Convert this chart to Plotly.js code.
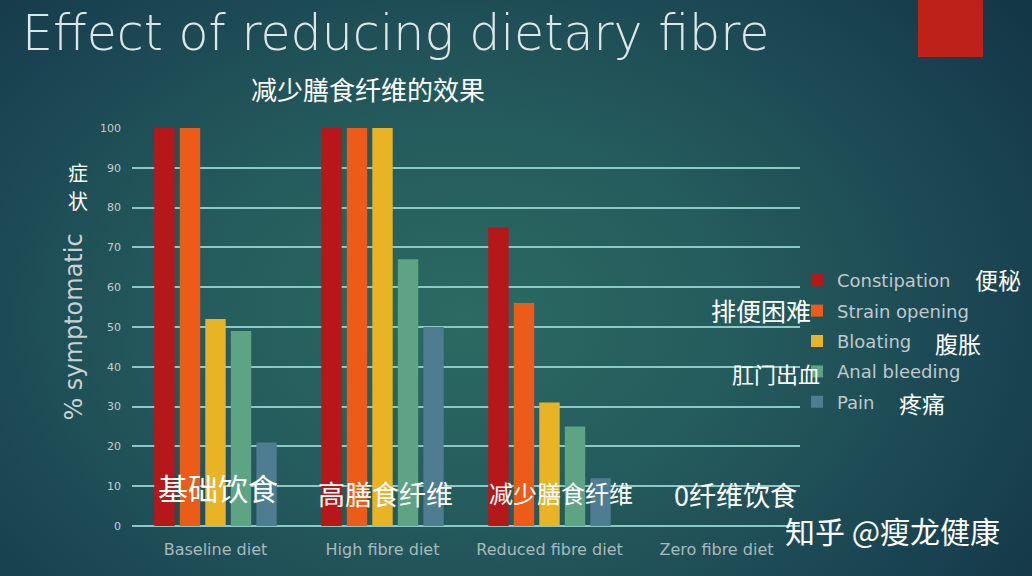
<!DOCTYPE html>
<html>
<head>
<meta charset="utf-8">
<script src="https://cdn.plot.ly/plotly-3.0.1.min.js"></script>
<style>
  html, body { margin: 0; padding: 0; }
  body {
    width: 1032px; height: 576px; overflow: hidden;
    background: radial-gradient(ellipse 70% 90% at 45% 55%, #2c6a62 0%, #245a5c 40%, #1a4452 75%, #133544 100%);
  }
  #chart { width: 1032px; height: 576px; }
</style>
</head>
<body>
<div id="chart"></div>
<script>
// ---- data ----
const categories = ['Baseline diet', 'High fibre diet', 'Reduced fibre diet', 'Zero fibre diet'];
const seriesNames = ['Constipation', 'Strain opening', 'Bloating', 'Anal bleeding', 'Pain'];
const constipation = [100, 100, 75, 0];
const strainOpening = [100, 100, 56, 0];
const bloating = [52, 100, 31, 0];
const analBleeding = [49, 67, 25, 0];
const pain = [21, 50, 12, 0];
const yTicks = [0, 10, 20, 30, 40, 50, 60, 70, 80, 90, 100];
const titleText = 'Effect of reducing dietary fibre';
const subtitleText = '减少膳食纤维的效果';
const legendCn = ['便秘', '排便困难', '腹胀', '肛门出血', '疼痛'];
const categoryCn = ['基础饮食', '高膳食纤维', '减少膳食纤维', '0纤维饮食'];
const yTitleCn = ['症', '状'];
const watermark = '知乎 @瘦龙健康';

// ---- layout helpers (plot area: x 132..800, y 128..526) ----
const L = 132, R = 800, T = 128, B = 526;
const px = v => (v - L) / (R - L);
const py = v => (B - v) / (B - T);

const colors = ['#b5171a', '#ec5c18', '#e8b325', '#5fa385', '#4e7c91'];
const values = [constipation, strainOpening, bloating, analBleeding, pain];

const traces = values.map((vals, i) => ({
  type: 'bar',
  name: seriesNames[i],
  x: categories,
  y: vals,
  marker: { color: colors[i] },
  legendgroup: 'g' + i,
  hoverinfo: 'x+y+name'
}));

const latin = 'DejaVu Sans, sans-serif';
const cnFont = 'Noto Sans CJK SC, sans-serif';
const ann = (text, x, y, size, extra) => Object.assign({
  text, xref: 'paper', yref: 'paper', x: px(x), y: py(y),
  xanchor: 'center', yanchor: 'middle', showarrow: false,
  font: { family: cnFont, size, color: '#ffffff' }
}, extra || {});

const annotations = [
  ann(subtitleText, 368, 88, 26),
  ann(yTitleCn[0], 78, 172, 20),
  ann(yTitleCn[1], 78, 200, 20),
  ann(legendCn[0], 998, 279, 23),
  ann(legendCn[1], 761, 310, 25),
  ann(legendCn[2], 958, 343, 23),
  ann(legendCn[3], 776, 373, 22),
  ann(legendCn[4], 922, 403, 23),
  ann(categoryCn[0], 218, 487, 30),
  ann(categoryCn[1], 385, 493, 27),
  ann(categoryCn[2], 561, 492, 24),
  ann(categoryCn[3], 735, 494, 27),
  ann(watermark, 892, 530, 30)
];

const layout = {
  width: 1032, height: 576,
  paper_bgcolor: 'rgba(0,0,0,0)',
  plot_bgcolor: 'rgba(0,0,0,0)',
  margin: { l: L, r: 1032 - R, t: T, b: 576 - B, pad: 0 },
  barmode: 'group',
  bargap: 0.236,
  bargroupgap: 0.2,
  showlegend: true,
  title: {
    text: titleText,
    x: 22 / 1032, xanchor: 'left', xref: 'container',
    y: 1 - 33 / 576, yanchor: 'middle', yref: 'container',
    font: { family: latin, size: 49, color: '#dfe6e8', weight: 200 }
  },
  xaxis: {
    type: 'category',
    showgrid: false, zeroline: false, showline: false,
    ticks: '',
    tickfont: { family: latin, size: 16, color: '#a9b9bd' },
    ticklabelstandoff: 12
  },
  yaxis: {
    range: [0, 100],
    tickvals: yTicks,
    showgrid: true, gridcolor: '#8ac9c4', gridwidth: 2,
    zeroline: true, zerolinecolor: '#8ac9c4', zerolinewidth: 2,
    showline: false, ticks: '',
    tickfont: { family: latin, size: 11, color: '#c3cdd0' },
    ticklabelstandoff: 10,
    title: {
      text: '% symptomatic',
      font: { family: latin, size: 24, color: '#c8d2d5' },
      standoff: 10
    }
  },
  legend: {
    x: px(797), xanchor: 'left',
    y: py(262), yanchor: 'top',
    bgcolor: 'rgba(0,0,0,0)',
    font: { family: latin, size: 18, color: '#bfc9cd' },
    tracegroupgap: 4,
    itemclick: false, itemdoubleclick: false
  },
  shapes: [{
    type: 'rect', xref: 'paper', yref: 'paper', layer: 'above',
    x0: px(918), x1: px(983), y0: py(57), y1: py(-5),
    fillcolor: '#bd2119', line: { width: 0 }
  }],
  annotations: annotations
};

Plotly.newPlot('chart', traces, layout, { displayModeBar: false, staticPlot: true });
</script>
</body>
</html>
